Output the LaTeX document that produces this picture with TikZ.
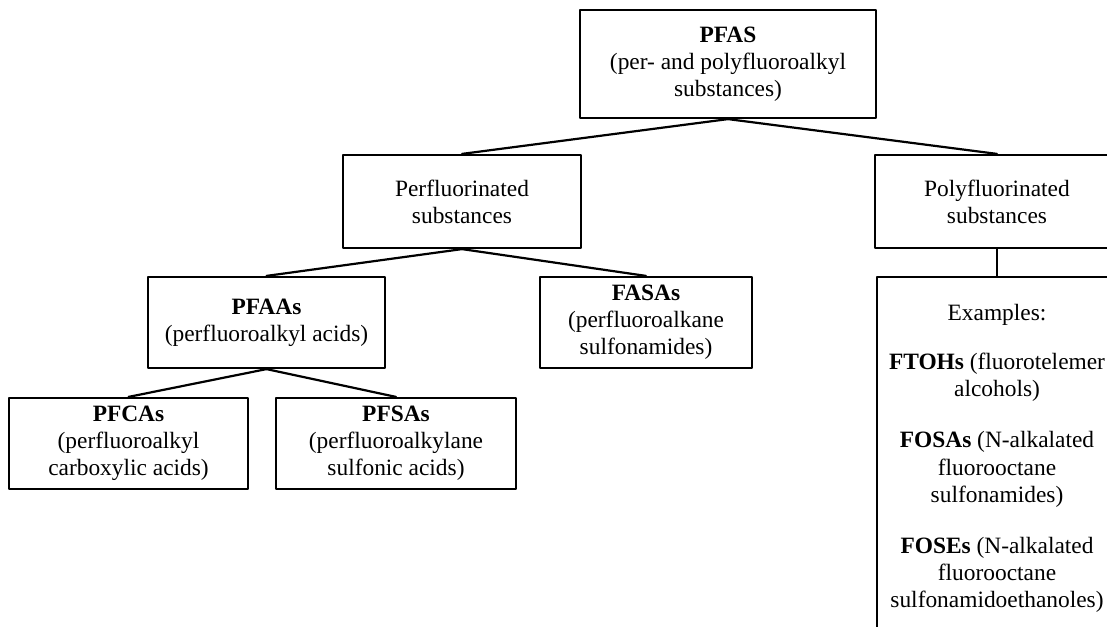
\documentclass[tikz,border=0pt]{standalone}
\usepackage{fontspec}
\setmainfont{Liberation Serif}
\usepackage{tikz}
\newcommand{\boxfont}{\fontsize{11.7}{13.6}\selectfont}

\begin{document}
\begin{tikzpicture}[line cap=round,line join=round,x=0.5pt,y=-0.5pt,
  box/.style={draw,line width=1.1pt,align=center,inner sep=0pt,font=\boxfont},
  link/.style={line width=1.1pt}]
\clip (0,0) rectangle (1107,626);
\fill[white] (0,0) rectangle (1107,626);
%
\node[box,minimum width=148pt,minimum height=54pt] (pfas) at (728,64)
  {\textbf{PFAS}\\(per- and polyfluoroalkyl\\substances)};
\node[box,minimum width=119pt,minimum height=46.5pt] (perf) at (462,201.5)
  {Perfluorinated\\substances};
\node[box,minimum width=122pt,minimum height=46.5pt] (poly) at (997,201.5)
  {Polyfluorinated\\substances};
%
\node[box,minimum width=118.5pt,minimum height=45.5pt] (pfaa) at (266.5,322.5)
  {\textbf{PFAAs}\\(perfluoroalkyl acids)};
\node[box,minimum width=106pt,minimum height=45.5pt] (fasa) at (646,322.5)
  {\textbf{FASAs}\\(perfluoroalkane\\sulfonamides)};
\node[box,minimum width=119.5pt,minimum height=45.5pt] (pfca) at (128.5,443.5)
  {\textbf{PFCAs}\\(perfluoroalkyl\\carboxylic acids)};
\node[box,minimum width=120pt,minimum height=45.5pt] (pfsa) at (396,443.5)
  {\textbf{PFSAs}\\(perfluoroalkylane\\sulfonic acids)};
%
\node[box,minimum width=120pt,minimum height=181.5pt] (exam) at (997,458.5)
  {Examples:\\[11pt]
   \textbf{FTOHs} (fluorotelemer\\alcohols)\\[12pt]
   \textbf{FOSAs} (N-alkalated\\fluorooctane\\sulfonamides)\\[12pt]
   \textbf{FOSEs} (N-alkalated\\fluorooctane\\sulfonamidoethanoles)};
%
\draw[link] (pfas.south)--(perf.north);
\draw[link] (pfas.south)--(poly.north);
\draw[link] (perf.south)--(pfaa.north);
\draw[link] (perf.south)--(fasa.north);
\draw[link] (pfaa.south)--(pfca.north);
\draw[link] (pfaa.south)--(pfsa.north);
\draw[link] (poly.south)--(exam.north);
\end{tikzpicture}
\end{document}
